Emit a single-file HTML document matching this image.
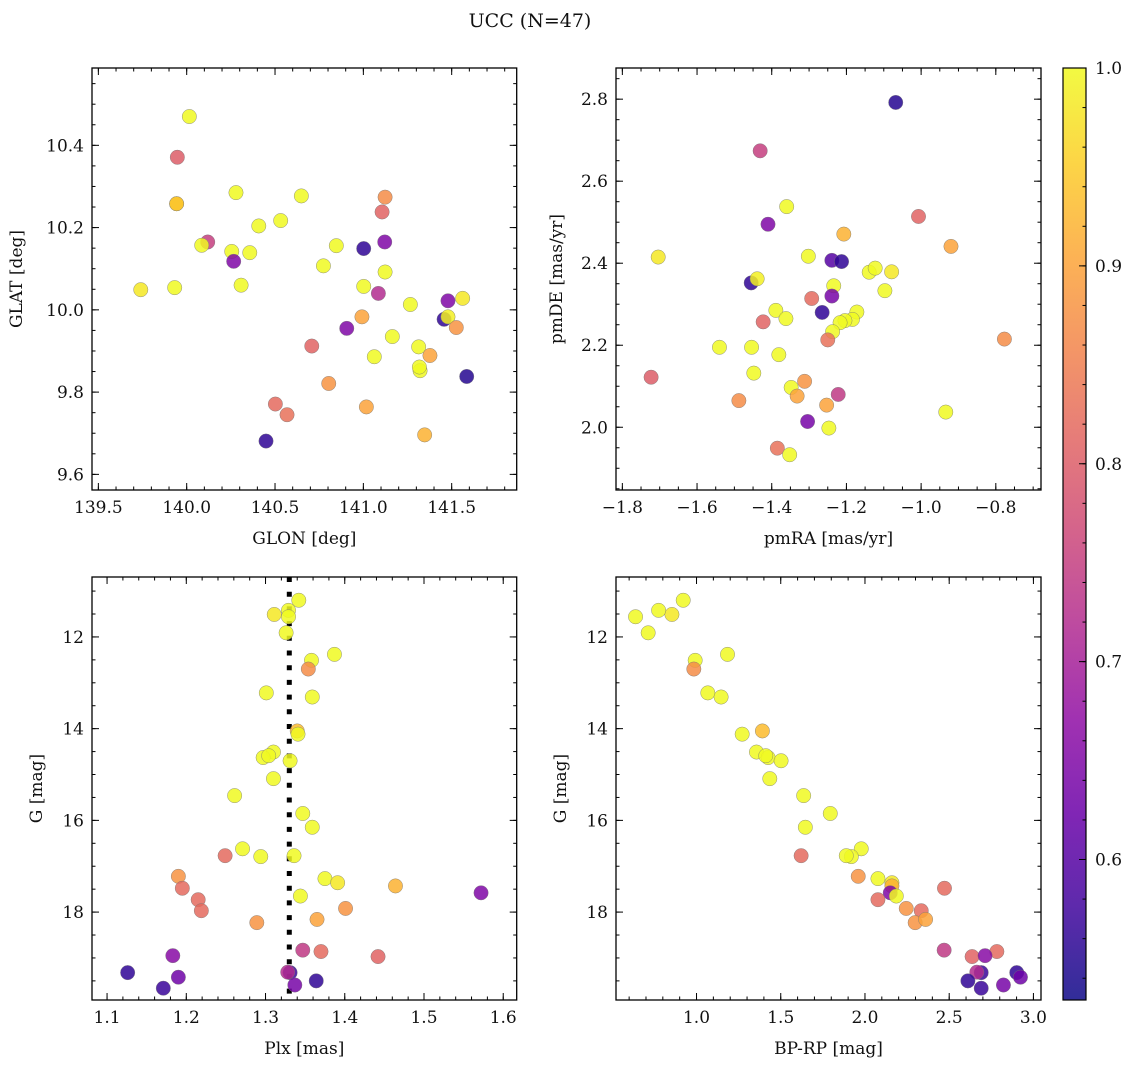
<!DOCTYPE html>
<html><head><meta charset="utf-8"><title>UCC (N=47)</title>
<style>
html,body{margin:0;padding:0;background:#fff;}
svg{display:block;font-family:"DejaVu Serif","Liberation Serif",serif;}
</style></head>
<body>
<svg id="fig" width="1136" height="1067" viewBox="0 0 1136 1067" xmlns="http://www.w3.org/2000/svg">
<text x="530" y="27" font-size="19" text-anchor="middle" fill="#111">UCC (N=47)</text>
</svg>
<script>
// ---- Panel 1: GLON / GLAT ----
const glon=[140.015,139.947,139.943,140.279,140.649,141.123,141.106,140.532,140.408,140.119,140.085,140.255,140.266,140.357,140.847,141.002,141.121,140.774,141.123,139.740,139.932,140.308,141.002,141.085,141.266,141.562,141.479,141.457,141.479,140.992,141.526,140.906,141.164,141.313,141.377,141.062,140.708,141.321,141.317,141.585,140.804,140.502,140.568,141.017,141.347,140.449,139.943];
const glat=[10.470,10.371,10.258,10.285,10.277,10.274,10.238,10.217,10.204,10.165,10.157,10.142,10.118,10.139,10.156,10.149,10.165,10.107,10.092,10.049,10.054,10.060,10.057,10.040,10.013,10.028,10.022,9.977,9.983,9.983,9.957,9.955,9.935,9.910,9.889,9.886,9.912,9.852,9.861,9.838,9.821,9.771,9.745,9.764,9.696,9.681,10.258];
const probTL=[1.0,0.80,0.88,1.0,1.0,0.87,0.81,1.0,1.0,0.75,1.0,1.0,0.65,1.0,1.0,0.56,0.65,1.0,1.0,0.98,1.0,1.0,1.0,0.72,1.0,0.98,0.65,0.56,0.99,0.90,0.88,0.65,1.0,1.0,0.90,1.0,0.81,1.0,1.0,0.55,0.88,0.82,0.83,0.90,0.92,0.56,0.95];
// ---- Panel 2: pmRA / pmDE ----
const pmra=[-1.068,-1.431,-1.360,-1.410,-1.007,-1.207,-0.920,-1.704,-1.302,-1.239,-1.213,-1.139,-1.123,-1.079,-1.097,-1.455,-1.439,-1.234,-1.239,-1.293,-1.265,-1.389,-1.362,-1.423,-1.172,-1.184,-1.204,-1.217,-1.237,-1.250,-1.540,-1.454,-1.381,-1.448,-1.723,-1.312,-1.348,-1.332,-1.222,-1.488,-1.253,-0.934,-1.304,-1.247,-1.385,-1.352,-0.777];
const pmde=[2.792,2.674,2.538,2.495,2.514,2.471,2.441,2.415,2.417,2.407,2.404,2.378,2.388,2.379,2.333,2.352,2.362,2.345,2.320,2.314,2.280,2.285,2.265,2.257,2.281,2.263,2.260,2.255,2.233,2.213,2.195,2.195,2.177,2.132,2.122,2.112,2.097,2.076,2.080,2.065,2.054,2.037,2.014,1.998,1.949,1.933,2.215];
const probTR=[0.55,0.75,1.0,0.65,0.81,0.92,0.90,0.98,1.0,0.60,0.56,1.0,1.0,0.98,1.0,0.56,0.99,1.0,0.64,0.82,0.56,1.0,1.0,0.81,1.0,1.0,1.0,1.0,1.0,0.83,1.0,1.0,1.0,1.0,0.80,0.88,1.0,0.90,0.74,0.87,0.90,1.0,0.64,1.0,0.83,1.0,0.87];
// ---- Panels 3 & 4: Plx, BP-RP vs G ----
const plx=[1.342,1.311,1.329,1.329,1.326,1.387,1.358,1.354,1.301,1.359,1.340,1.341,1.310,1.297,1.304,1.331,1.310,1.261,1.347,1.359,1.271,1.249,1.294,1.336,1.190,1.195,1.375,1.391,1.464,1.572,1.344,1.215,1.219,1.401,1.289,1.365,1.347,1.370,1.442,1.183,1.126,1.190,1.171,1.331,1.328,1.337,1.364];
const gmag=[11.20,11.51,11.42,11.56,11.91,12.38,12.51,12.70,13.22,13.31,14.05,14.12,14.51,14.63,14.59,14.70,15.09,15.46,15.85,16.15,16.62,16.77,16.79,16.77,17.22,17.48,17.27,17.36,17.43,17.58,17.65,17.73,17.97,17.92,18.23,18.16,18.83,18.86,18.97,18.95,19.32,19.42,19.66,19.32,19.31,19.59,19.50];
const bprp=[0.921,0.854,0.775,0.638,0.713,1.184,0.992,0.984,1.067,1.146,1.391,1.271,1.356,1.425,1.411,1.502,1.435,1.636,1.794,1.646,1.978,1.621,1.919,1.889,1.960,2.472,2.077,2.160,2.160,2.150,2.186,2.077,2.334,2.245,2.298,2.360,2.470,2.783,2.636,2.713,2.901,2.923,2.690,2.690,2.664,2.822,2.611];
const probB=[1.0,0.98,1.0,1.0,1.0,1.0,1.0,0.87,1.0,1.0,0.93,1.0,1.0,1.0,1.0,1.0,1.0,1.0,1.0,1.0,1.0,0.82,1.0,1.0,0.88,0.82,1.0,0.98,0.92,0.65,1.0,0.82,0.82,0.88,0.88,0.90,0.74,0.82,0.81,0.66,0.56,0.63,0.57,0.57,0.72,0.64,0.56];
const plxLine=1.33;
const cbTicks=[0.6,0.7,0.8,0.9,1.0];

const SVGNS="http://www.w3.org/2000/svg";
const svg=document.getElementById('fig');
const VMIN=0.529, VMAX=1.0;
const plasma=[[13,8,135],[65,4,157],[106,0,168],[143,13,164],[177,42,144],[204,71,120],[225,100,98],[242,132,75],[252,166,54],[252,206,37],[240,249,33]];
function cmap(v){let t=(v-VMIN)/(VMAX-VMIN);t=Math.max(0,Math.min(1,t));const p=t*10;const i=Math.min(9,Math.floor(p));const f=p-i;const a=plasma[i],b=plasma[i+1];return 'rgb('+[0,1,2].map(k=>Math.round(a[k]+(b[k]-a[k])*f)).join(',')+')';}
function el(tag,attrs,parent){const e=document.createElementNS(SVGNS,tag);for(const k in attrs)e.setAttribute(k,attrs[k]);(parent||svg).appendChild(e);return e;}
function fmt(v,d){const s=Math.abs(v).toFixed(d);return (v<-1e-9?'\u2212':'')+s;}

function panel(name,box,xr,yr,xinv,yinv,xMaj,xMin,yMaj,yMin,xd,yd,xlabel,ylabel,ylabX){
  const g=el('g',{});
  
  
  const [x0,y0,x1,y1]=box;
  const sx=v=>x0+(v-xr[0])/(xr[1]-xr[0])*(x1-x0);
  const sy=yinv? (v=>y0+(v-yr[0])/(yr[1]-yr[0])*(y1-y0)) : (v=>y1-(v-yr[0])/(yr[1]-yr[0])*(y1-y0));
  const ticks=(step,lo,hi)=>{const a=[];for(let v=Math.ceil(lo/step-1e-6)*step;v<=hi+1e-9;v+=step)a.push(+v.toFixed(6));return a;};
  const tg=el('g',{stroke:'#000','stroke-width':1},g);
  
  
  ticks(xMin,xr[0],xr[1]).forEach(v=>{const x=sx(v);el('line',{x1:x,x2:x,y1:y1,y2:y1-3.5},tg);el('line',{x1:x,x2:x,y1:y0,y2:y0+3.5},tg);});
  ticks(yMin,yr[0],yr[1]).forEach(v=>{const y=sy(v);el('line',{x1:x0,x2:x0+3.5,y1:y,y2:y},tg);el('line',{x1:x1,x2:x1-3.5,y1:y,y2:y},tg);});
  ticks(xMaj,xr[0],xr[1]).forEach(v=>{const x=sx(v);el('line',{x1:x,x2:x,y1:y1,y2:y1-7},tg);el('line',{x1:x,x2:x,y1:y0,y2:y0+7},tg);
    const t=el('text',{x:x,y:y1+23,'font-size':17,'text-anchor':'middle',fill:'#111'},g);t.textContent=fmt(v,xd);
    
    });
  ticks(yMaj,yr[0],yr[1]).forEach(v=>{const y=sy(v);el('line',{x1:x0,x2:x0+7,y1:y,y2:y},tg);el('line',{x1:x1,x2:x1-7,y1:y,y2:y},tg);
    const t=el('text',{x:x0-8,y:y+6,'font-size':17,'text-anchor':'end',fill:'#111'},g);t.textContent=fmt(v,yd);
    
    });
  const xl=el('text',{x:(x0+x1)/2,y:y1+54,'font-size':17,'text-anchor':'middle',fill:'#111'},g);xl.textContent=xlabel;
  
  
  const yl=el('text',{x:ylabX,y:(y0+y1)/2,'font-size':17,'text-anchor':'middle',fill:'#111',transform:'rotate(-90 '+ylabX+' '+((y0+y1)/2)+')'},g);yl.textContent=ylabel;
  
  
  const clip='clip-'+name;
  const cp=el('clipPath',{id:clip},g);el('rect',{x:x0,y:y0,width:x1-x0,height:y1-y0},cp);
  const pg=el('g',{'clip-path':'url(#'+clip+')'},g);
  
  
  const fr=el('rect',{x:x0,y:y0,width:x1-x0,height:y1-y0,fill:'none',stroke:'#000','stroke-width':1.3},g);
  
  
  return {sx,sy,pg};
}
function scatter(p,xs,ys,cs){
  xs.forEach((xv,i)=>{const c=el('circle',{cx:p.sx(xv),cy:p.sy(ys[i]),r:7.2,fill:cmap(cs[i]),'fill-opacity':0.85,stroke:'#777','stroke-width':0.5,'stroke-opacity':0.8},p.pg);
    
    });
}

const p1=panel('glon-glat-panel',[92,68,516.7,490],[139.464,141.868],[9.562,10.588],false,false,0.5,0.1,0.2,0.05,1,1,'GLON [deg]','GLAT [deg]',22);
scatter(p1,glon,glat,probTL);
const p2=panel('pm-panel',[616,68,1041,490],[-1.817,-0.679],[1.847,2.876],false,false,0.2,0.05,0.2,0.05,1,1,'pmRA [mas/yr]','pmDE [mas/yr]',562);
scatter(p2,pmra,pmde,probTR);
const p3=panel('plx-g-panel',[92,577,516.7,1000],[1.081,1.617],[10.693,19.917],false,true,0.1,0.02,2,0.5,1,0,'Plx [mas]','G [mag]',42);
const dl=el('line',{x1:p3.sx(plxLine),x2:p3.sx(plxLine),y1:577,y2:1000,stroke:'#000','stroke-width':5,'stroke-dasharray':'5 9.7'},p3.pg);


scatter(p3,plx,gmag,probB);
const p4=panel('cmd-panel',[616,577,1041,1000],[0.522,3.045],[10.693,19.917],false,true,0.5,0.1,2,0.5,1,0,'BP-RP [mag]','G [mag]',566);
scatter(p4,bprp,gmag,probB);

// colorbar
const cb=el('g',{});


const defs=el('defs',{},cb);
const lg=el('linearGradient',{id:'plasmaGrad',x1:0,y1:1,x2:0,y2:0},defs);
plasma.forEach((c,i)=>el('stop',{offset:(i/10),'stop-color':'rgb('+c.join(',')+')','stop-opacity':0.85},lg));
const cbx0=1063,cbx1=1086,cby0=68,cby1=1000;
el('rect',{x:cbx0,y:cby0,width:cbx1-cbx0,height:cby1-cby0,fill:'url(#plasmaGrad)',stroke:'#000','stroke-width':1.2},cb);
const cby=v=>cby1-(v-VMIN)/(VMAX-VMIN)*(cby1-cby0);
for(let v=0.54;v<=1.0001;v+=0.02){const y=cby(v);el('line',{x1:cbx1,x2:cbx1-3.5,y1:y,y2:y,stroke:'#000'},cb);}
cbTicks.forEach(v=>{const y=cby(v);el('line',{x1:cbx1,x2:cbx1-7,y1:y,y2:y,stroke:'#000'},cb);
  const t=el('text',{x:cbx1+9,y:y+6,'font-size':17,fill:'#111'},cb);t.textContent=v.toFixed(1);
  
  });
</script>
</body></html>
